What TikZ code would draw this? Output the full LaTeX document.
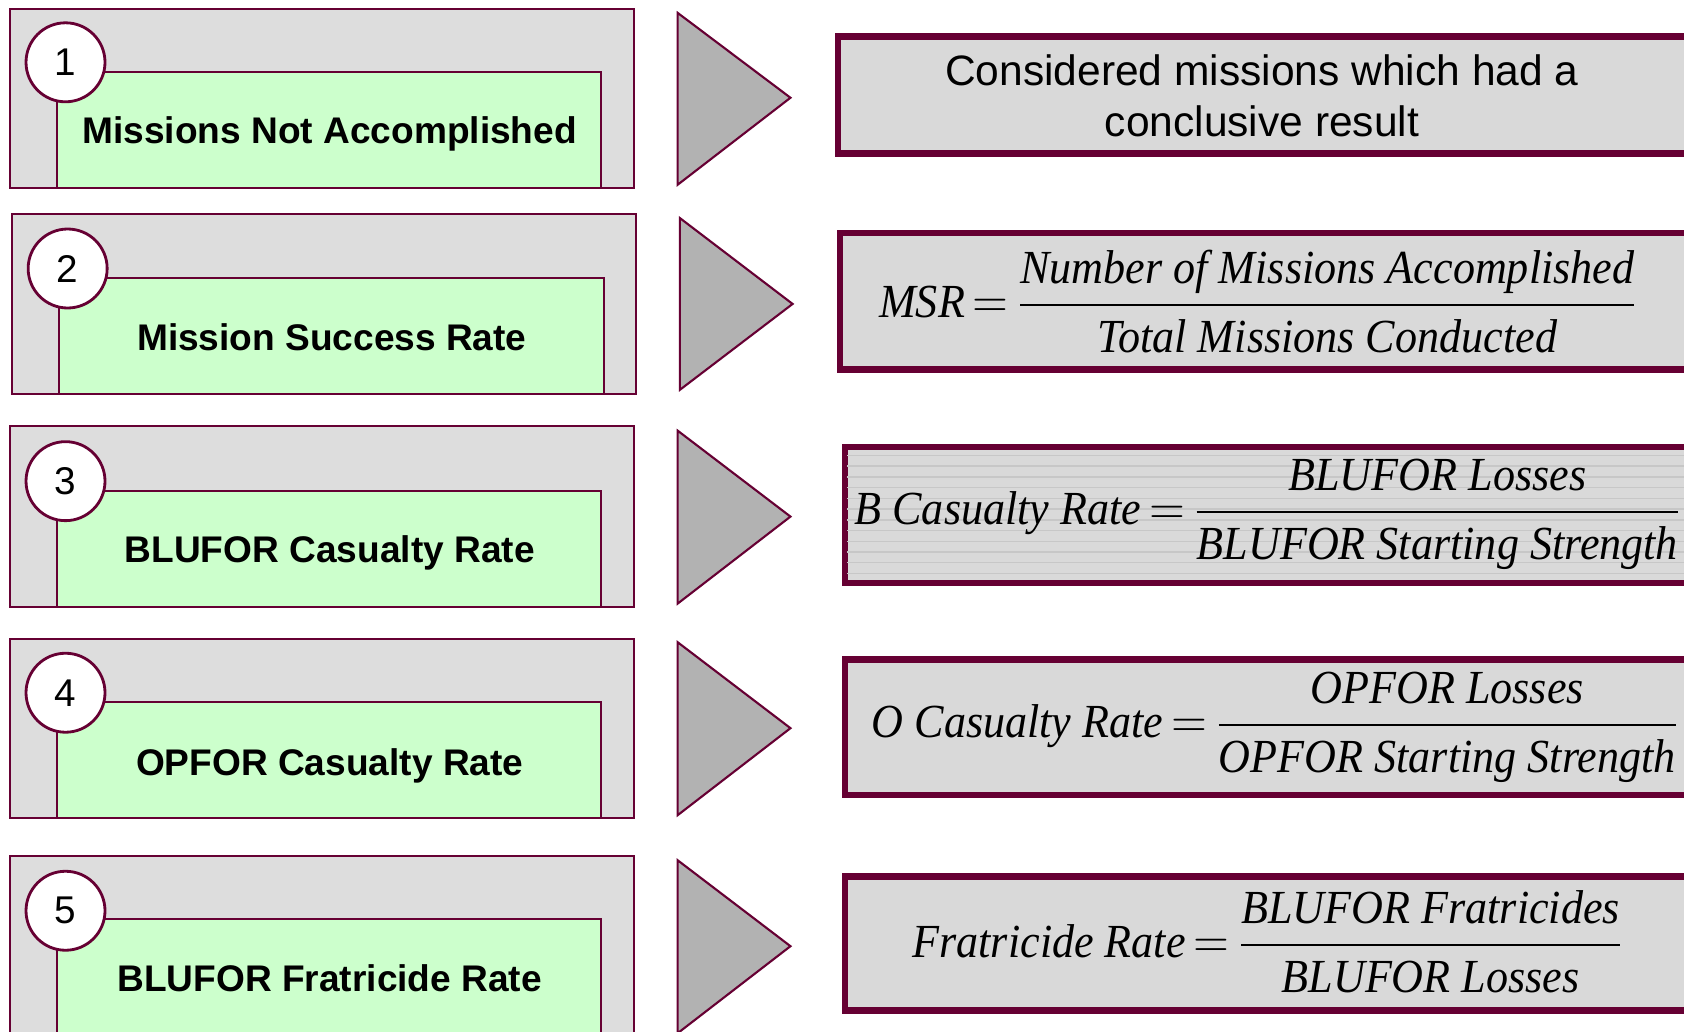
\documentclass[tikz,border=0pt]{standalone}
\usepackage{amsmath}
\usepackage{fontspec}
\setmainfont{Liberation Serif}
\setsansfont{Liberation Sans}
\usetikzlibrary{shapes, positioning}
\definecolor{wine}{RGB}{102,0,51}
\definecolor{mint}{RGB}{204,255,204}
\definecolor{panelgray}{RGB}{221,221,221}
\definecolor{resultgray}{RGB}{217,217,217}
\definecolor{pointergray}{RGB}{178,178,178}
\newcommand{\vname}[1]{\textit{#1}}
\newcommand{\ratio}[3]{\scalebox{0.93}[1]{$\vname{#1}\,{=}\,\dfrac{\vname{#2}}{\vname{#3}}$}}
\tikzstyle{outerbox} = [draw=wine, fill=panelgray, line width=0.6pt]
\tikzstyle{namebox} = [draw=wine, fill=mint, line width=0.6pt]
\tikzstyle{numcircle} = [circle, draw=wine, fill=white, line width=0.8pt, minimum size=7.9mm, inner sep=0pt, font=\sffamily\fontsize{11}{13}\selectfont]
\tikzstyle{title} = [anchor=base, font=\sffamily\bfseries\fontsize{10.55}{12}\selectfont]
\tikzstyle{pointer} = [draw=wine, fill=pointergray, line width=0.6pt]
\tikzstyle{resultbox} = [draw=wine, fill=resultgray, line width=1.8pt]
\tikzstyle{formula} = [anchor=west, inner sep=0pt, font=\fontsize{13.5}{16}\selectfont]

\begin{document}
\begin{tikzpicture}[x=0.1074mm, y=-0.1074mm]
	\clip (0,0) rectangle (1568,960);
	\fill[white] (0,0) rectangle (1568,960);

	% 1
	\draw[outerbox] (9,8) rectangle (590,175);
	\draw[namebox] (53,67) rectangle (560,175);
	\node[numcircle] (n1) at (61,58) {1};
	\node[title] (t1) at (307,134) {Missions Not Accomplished};
	\draw[pointer] (631,12) -- (736,91) -- (631,172) -- cycle;
	\draw[resultbox] (780,34) rectangle (1600,143);
	\node[align=center, font=\sffamily\fontsize{12.1}{14.6}\selectfont] (r1) at (1175,89) {Considered missions which had a\\conclusive result};

	% 2
	\draw[outerbox] (11,199) rectangle (592,367);
	\draw[namebox] (55,259) rectangle (562,367);
	\node[numcircle] (n2) at (63,250) {2};
	\node[title] (t2) at (309,326) {Mission Success Rate};
	\draw[pointer] (633,203) -- (738,283) -- (633,363) -- cycle;
	\draw[resultbox] (782,217) rectangle (1600,344);
	\node[formula] (r2) at (818,281) {\ratio{MSR}{Number of Missions Accomplished}{Total Missions Conducted}};

	% 3
	\draw[outerbox] (9,397) rectangle (590,565);
	\draw[namebox] (53,457) rectangle (560,565);
	\node[numcircle] (n3) at (61,448) {3};
	\node[title] (t3) at (307,524) {BLUFOR Casualty Rate};
	\draw[pointer] (631,401) -- (736,481) -- (631,562) -- cycle;
	\draw[resultbox] (787,416) rectangle (1600,543);
	\foreach \ly in {424,434,...,534}
		\draw[black!22, line width=0.4pt] (789,\ly) -- (1600,\ly);
	\node[formula] (r3) at (795,479) {\ratio{B Casualty Rate}{BLUFOR Losses}{BLUFOR Starting Strength}};

	% 4
	\draw[outerbox] (9,595) rectangle (590,762);
	\draw[namebox] (53,654) rectangle (560,762);
	\node[numcircle] (n4) at (61,645) {4};
	\node[title] (t4) at (307,722) {OPFOR Casualty Rate};
	\draw[pointer] (631,598) -- (736,678) -- (631,759) -- cycle;
	\draw[resultbox] (787,614) rectangle (1600,740);
	\node[formula] (r4) at (811,677) {\ratio{O Casualty Rate}{OPFOR Losses}{OPFOR Starting Strength}};

	% 5
	\draw[outerbox] (9,797) rectangle (590,1000);
	\draw[namebox] (53,856) rectangle (560,1000);
	\node[numcircle] (n5) at (61,848) {5};
	\node[title] (t5) at (307,923) {BLUFOR Fratricide Rate};
	\draw[pointer] (631,801) -- (736,881) -- (631,962) -- cycle;
	\draw[resultbox] (787,816) rectangle (1600,941);
	\node[formula] (r5) at (849,877) {\ratio{Fratricide Rate}{BLUFOR Fratricides}{BLUFOR Losses}};
\end{tikzpicture}
\end{document}
